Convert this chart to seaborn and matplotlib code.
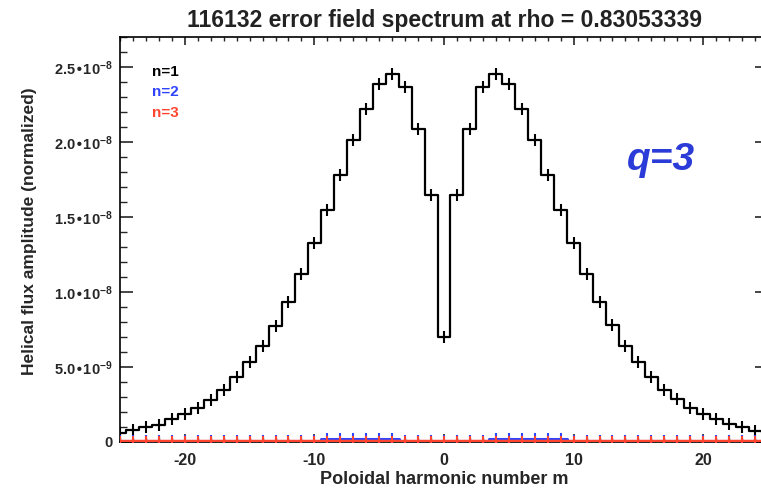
import numpy as np
import pandas as pd
import seaborn as sns
from matplotlib import pyplot as plt
from matplotlib.ticker import MultipleLocator, FixedLocator


## DADOS (unidades de 1e-8)

m = list(range(-25, 26))
n1 = [0.062, 0.078, 0.100, 0.113, 0.150, 0.185, 0.229, 0.282, 0.347, 0.433,
      0.531, 0.640, 0.775, 0.935, 1.120, 1.329, 1.547, 1.780, 2.013, 2.222,
      2.385, 2.455, 2.369, 2.087, 1.645, 0.702, 1.645, 2.087, 2.369, 2.455,
      2.385, 2.222, 2.013, 1.780, 1.547, 1.329, 1.120, 0.935, 0.778, 0.640,
      0.535, 0.431, 0.347, 0.287, 0.225, 0.185, 0.151, 0.120, 0.102, 0.075,
      0.060]
n2 = [0.008] * 16 + [0.018] * 6 + [0.008] * 7 + [0.018] * 6 + [0.008] * 16
n3 = [0.0] * 51

yticks = [0, 0.5e-8, 1.0e-8, 1.5e-8, 2.0e-8, 2.5e-8]
ylabels = ['0', '5.0•10$^{-9}$', '1.0•10$^{-8}$', '1.5•10$^{-8}$',
           '2.0•10$^{-8}$', '2.5•10$^{-8}$']
xticks = [-20, -10, 0, 10, 20]

titulo = '116132 error field spectrum at rho = 0.83053339'

df = pd.DataFrame({'m': m,
                   'n=1': np.array(n1) * 1e-8,
                   'n=2': np.array(n2) * 1e-8,
                   'n=3': np.array(n3) * 1e-8})

cores = {'n=1': 'black', 'n=2': '#3044ff', 'n=3': '#ff4530'}


## ESTILO

sns.set_style('ticks')
plt.rcParams['font.family'] = ['Liberation Sans', 'DejaVu Sans']
plt.rcParams['font.weight'] = 'bold'
plt.rcParams['mathtext.default'] = 'regular'
plt.rcParams['axes.unicode_minus'] = False

fig = plt.figure(figsize=(7.61, 4.90), dpi=100)
ax = fig.add_axes([0.1577, 0.098, 0.8515, 0.8265])


## CURVAS

larg = {'n=1': 1.6, 'n=2': 2.2, 'n=3': 3.2}
ordem = {'n=1': 2, 'n=2': 3, 'n=3': 4}
for serie in ['n=1', 'n=2', 'n=3']:
    sns.lineplot(data=df, x='m', y=serie, ax=ax, color=cores[serie],
                 drawstyle='steps-mid', marker='|', markersize=9,
                 markeredgewidth=1.5, markeredgecolor=cores[serie],
                 linewidth=larg[serie], estimator=None, sort=False,
                 zorder=ordem[serie])


## EIXOS

ax.set_xlim(-25, 25)
ax.set_ylim(0, 2.7e-8)
ax.xaxis.set_major_locator(FixedLocator(xticks))
ax.xaxis.set_minor_locator(MultipleLocator(1))
ax.set_yticks(yticks)
ax.set_yticklabels(ylabels)
ax.yaxis.set_minor_locator(MultipleLocator(0.1e-8))

ax.tick_params(axis='x', which='major', direction='in', top=True, bottom=True,
               length=6, width=1.2, labelsize=11.5, pad=8)
ax.tick_params(axis='x', which='minor', direction='in', top=True, bottom=True,
               length=3, width=1.0)
ax.tick_params(axis='y', which='major', direction='in', left=True, right=True,
               length=9.5, width=1.2, labelsize=10.5, pad=5)
ax.tick_params(axis='y', which='minor', direction='in', left=True, right=True,
               length=5, width=1.0)
for lab in ax.get_xticklabels() + ax.get_yticklabels():
    lab.set_fontweight('bold')

for sp in ax.spines.values():
    sp.set_linewidth(1.2)
    sp.set_color('black')

ax.set_xlabel('Poloidal harmonic number m', fontsize=13, fontweight='bold',
              labelpad=2)
ax.set_ylabel('Helical flux amplitude (normalized)', fontsize=12.5,
              fontweight='bold', labelpad=4)
ax.yaxis.set_label_coords(-0.128, 0.52)
ax.set_title(titulo, fontsize=16.5, fontweight='bold', color='#222222', pad=7)


## LEGENDA E TEXTO

for i, serie in enumerate(['n=1', 'n=2', 'n=3']):
    ax.text(0.049, 0.914 - i * 0.051, serie, transform=ax.transAxes,
            color=cores[serie], fontsize=11, fontweight='bold', va='center')

ax.text(0.835, 0.696, 'q=3', transform=ax.transAxes, color='#2a3bd8',
        fontsize=28, fontweight='bold', fontstyle='italic',
        ha='center', va='center')

plt.savefig('out.png', dpi=100)
